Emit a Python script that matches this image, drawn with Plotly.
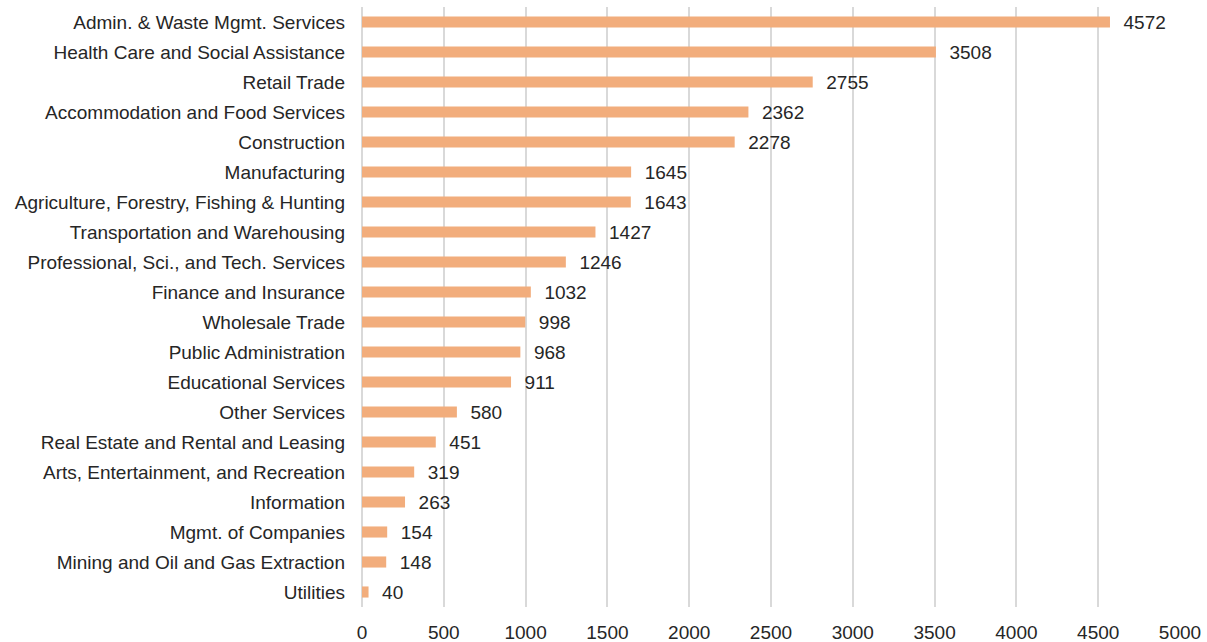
import plotly.graph_objects as go

industries = [
    "Admin. & Waste Mgmt. Services",
    "Health Care and Social Assistance",
    "Retail Trade",
    "Accommodation and Food Services",
    "Construction",
    "Manufacturing",
    "Agriculture, Forestry, Fishing & Hunting",
    "Transportation and Warehousing",
    "Professional, Sci., and Tech. Services",
    "Finance and Insurance",
    "Wholesale Trade",
    "Public Administration",
    "Educational Services",
    "Other Services",
    "Real Estate and Rental and Leasing",
    "Arts, Entertainment, and Recreation",
    "Information",
    "Mgmt. of Companies",
    "Mining and Oil and Gas Extraction",
    "Utilities",
]
values = [4572, 3508, 2755, 2362, 2278, 1645, 1643, 1427, 1246, 1032,
          998, 968, 911, 580, 451, 319, 263, 154, 148, 40]
x_ticks = [0, 500, 1000, 1500, 2000, 2500, 3000, 3500, 4000, 4500, 5000]

FONT = "Liberation Sans, Arial, Helvetica, sans-serif"
TXT = "#262626"

fig = go.Figure(go.Bar(
    y=industries,
    x=values,
    orientation="h",
    marker=dict(color="#F2AD7C", line=dict(width=0)),
    text=values,
    texttemplate="  %{x}",
    textposition="outside",
    constraintext="none",
    textfont=dict(family=FONT, size=19, color=TXT),
    cliponaxis=False,
))

fig.update_layout(
    width=1207, height=642,
    margin=dict(l=362, r=27, t=7, b=35, autoexpand=False),
    paper_bgcolor="white",
    plot_bgcolor="white",
    bargap=0.63,
    showlegend=False,
    font=dict(family=FONT, size=19, color=TXT),
    xaxis=dict(
        range=[0, 5000],
        tickvals=x_ticks,
        showgrid=True,
        gridcolor="#D9D9D9",
        gridwidth=1.5,
        zeroline=True,
        zerolinecolor="#D9D9D9",
        zerolinewidth=1.5,
        showline=False,
        ticklabelstandoff=12,
        tickfont=dict(family=FONT, size=19, color=TXT),
    ),
    yaxis=dict(
        autorange="reversed",
        showgrid=False,
        showline=False,
        ticklabelstandoff=16,
        tickfont=dict(family=FONT, size=19, color=TXT),
    ),
)

fig.write_html("out.html", config={"displayModeBar": False})

with open("out.html", "r", encoding="utf-8") as f:
    html = f.read()
html = html.replace("<head>", "<head><style>html,body{margin:0;padding:0;}</style>", 1)
with open("out.html", "w", encoding="utf-8") as f:
    f.write(html)
